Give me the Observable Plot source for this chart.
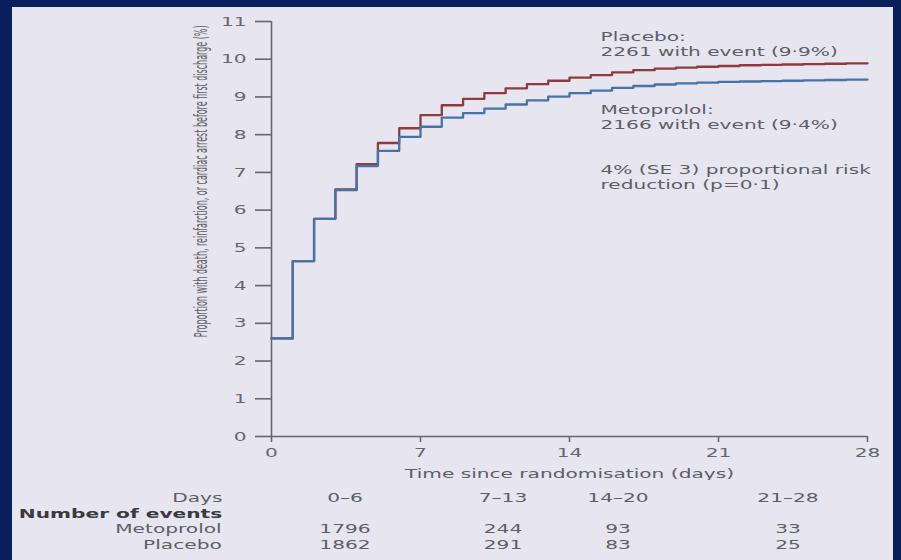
<!DOCTYPE html>
<html><head><meta charset="utf-8">
<script src="https://cdn.jsdelivr.net/npm/d3@7"></script>
<script src="https://cdn.jsdelivr.net/npm/@observablehq/plot@0.6"></script>
<style>
html,body{margin:0;padding:0;background:#0b1e5c;width:901px;height:560px;overflow:hidden}
#panel{position:absolute;left:12px;top:7px;width:881px;height:553px;background:#e6e5f0;}
#chart{position:absolute;left:0;top:0}
.cell{position:absolute;font:13px "DejaVu Sans",sans-serif;color:#5e5e66;line-height:16px;white-space:nowrap}
.lab{transform:scaleX(1.55);transform-origin:100% 50%;text-align:right}
.num{transform:translateX(-50%) scaleX(1.55);transform-origin:50% 50%}
.bold{font-weight:bold;color:#3a3a40}
#chart svg [aria-label="y-axis tick"] path,#chart svg [aria-label="x-axis tick"] path,#chart svg .tick line{stroke-width:1.6}
</style></head><body><div id="panel"><div id="chart"></div></div>
<script>
// ---- data ----
const days = [0,1,2,3,4,5,6,7,8,9,10,11,12,13,14,15,16,17,18,19,20,21,22,23,24,25,26,27,28];
const placebo = [2.6,4.65,5.77,6.55,7.22,7.78,8.17,8.52,8.78,8.95,9.1,9.23,9.34,9.43,9.51,9.58,9.65,9.71,9.75,9.78,9.8,9.82,9.84,9.85,9.86,9.87,9.88,9.89,9.89];
const metoprolol = [2.6,4.65,5.77,6.53,7.17,7.57,7.94,8.21,8.45,8.57,8.69,8.8,8.91,9.01,9.1,9.17,9.24,9.29,9.33,9.36,9.38,9.4,9.41,9.42,9.43,9.44,9.45,9.46,9.46];
const xTicks = [0,7,14,21,28];
const yTicks = [0,1,2,3,4,5,6,7,8,9,10,11];
const groups = ["Placebo","Metoprolol"];
const placeboNote = "Placebo:\n2261 with event (9·9%)";
const metoNote = "Metoprolol:\n2166 with event (9·4%)";
const riskNote = "4% (SE 3) proportional risk\nreduction (p=0·1)";
const yLabel = "Proportion with death, reinfarction, or cardiac arrest before first discharge (%)";
const xLabel = "Time since randomisation (days)";
const periods = ["0–6","7–13","14–20","21–28"];
const metoEvents = [1796,244,93,33];
const placeboEvents = [1862,291,83,25];
const rowLabels = ["Days","Number of events","Metoprolol","Placebo"];

// ---- table for Plot ----
const rows = [];
days.forEach((d,i)=>rows.push({day:d,value:placebo[i],group:groups[0]}));
days.forEach((d,i)=>rows.push({day:d,value:metoprolol[i],group:groups[1]}));

const textGray = "#5e5e66";
const chart = Plot.plot({
  width: 881, height: 473,
  marginLeft: 259, marginRight: 26, marginTop: 14, marginBottom: 44,
  style: {background: "transparent", color: "#66666c", fontFamily: '"DejaVu Sans", sans-serif', fontSize: "13px"},
  x: {domain: [0,28], ticks: xTicks, tickSize: 6, tickPadding: 5, label: null},
  y: {domain: [0,11], ticks: yTicks, tickSize: 16, tickPadding: 9, label: null},
  color: {domain: groups, range: ["#8e3a3e","#4674a8"]},
  marks: [
    Plot.ruleY([0], {stroke: "#66666c", strokeWidth: 1.6}),
    Plot.ruleX([0], {stroke: "#66666c", strokeWidth: 1.6}),
    Plot.line(rows, {x: "day", y: "value", z: "group", stroke: "group", curve: "step-after", strokeWidth: 2.3}),
    Plot.text([placeboNote], {frameAnchor: "top-left", dx: 329, dy: 9, textAnchor: "start", lineAnchor: "top", lineHeight: 1.15, fill: textGray, fontSize: 13}),
    Plot.text([metoNote], {frameAnchor: "top-left", dx: 329, dy: 82, textAnchor: "start", lineAnchor: "top", lineHeight: 1.15, fill: textGray, fontSize: 13}),
    Plot.text([riskNote], {frameAnchor: "top-left", dx: 329, dy: 142, textAnchor: "start", lineAnchor: "top", lineHeight: 1.15, fill: textGray, fontSize: 13}),
    Plot.text([xLabel], {frameAnchor: "bottom", dy: 37, lineAnchor: "middle", fill: textGray, fontSize: 13}),
    Plot.text([yLabel], {frameAnchor: "top-left", rotate: -90, textAnchor: "end", lineAnchor: "middle", dx: -70, dy: 4, fill: textGray, fontSize: 11, fontFamily: '"DejaVu Sans", sans-serif'})
  ]
});
document.getElementById("chart").appendChild(chart);

// stretch glyphs like the reference
function stretch(el, sx, sy) {
  let t = el.getAttribute("transform") || "";
  if (!/translate/.test(t)) {
    const x = +el.getAttribute("x") || 0, y = +el.getAttribute("y") || 0;
    el.setAttribute("x", 0); el.setAttribute("y", 0);
    t = `translate(${x},${y}) ${t}`;
  }
  el.setAttribute("transform", `${t} scale(${sx},${sy})`);
}
chart.querySelectorAll("text").forEach(el => {
  if (el.textContent === yLabel) {
    const len = el.getComputedTextLength() || 450;
    stretch(el, 312 / len, 1.6);
  } else stretch(el, 1.55, 1);
});

// ---- events table (HTML below the axis) ----
const panel = document.getElementById("panel");
const rowY = [491, 507, 522, 538];
const colX = [333, 491, 606, 776];
function addCell(text, cls, style) {
  const d = document.createElement("div");
  d.className = "cell " + cls;
  d.textContent = text;
  Object.assign(d.style, style);
  panel.appendChild(d);
}
rowLabels.forEach((t, i) => addCell(t, "lab" + (i === 1 ? " bold" : ""), {right: "671px", top: (rowY[i] - 8) + "px"}));
periods.forEach((t, j) => addCell(t, "num", {left: colX[j] + "px", top: (rowY[0] - 8) + "px"}));
metoEvents.forEach((t, j) => addCell(String(t), "num", {left: colX[j] + "px", top: (rowY[2] - 8) + "px"}));
placeboEvents.forEach((t, j) => addCell(String(t), "num", {left: colX[j] + "px", top: (rowY[3] - 8) + "px"}));
</script>
</body></html>
